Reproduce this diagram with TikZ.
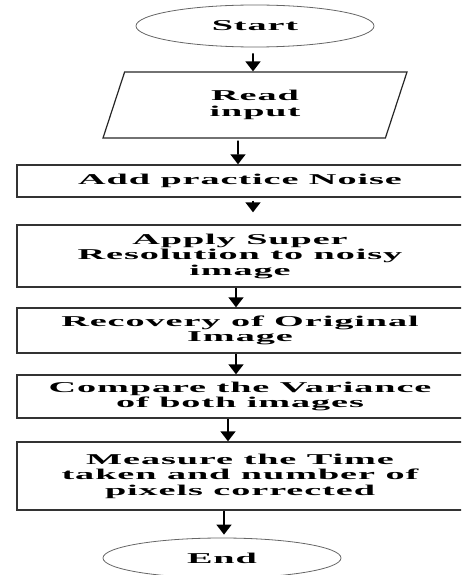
\documentclass[tikz,border=0pt]{standalone}
\usepackage{fontspec}
\newfontfamily\flowfont[FakeStretch=2.55,LetterSpace=6]{Liberation Serif}
\usetikzlibrary{shapes.geometric,arrows.meta}

\begin{document}
\begin{tikzpicture}[x=1pt,y=-1pt,
    every node/.style={font=\flowfont\bfseries\fontsize{15}{15.5}\selectfont,align=center,inner sep=0pt},
    terminal/.style={ellipse,draw=black!60,line width=0.8pt,minimum width=238pt},
    iobox/.style={trapezium,trapezium left angle=53.4,trapezium right angle=126.6,trapezium stretches body,
        draw=black!85,line width=1.2pt,minimum width=304pt,minimum height=66pt},
    procbox/.style={rectangle,draw=black!80,line width=1.4pt,minimum width=446pt},
    arr/.style={-{Triangle[width=15pt,length=10pt]},line width=1.6pt}]
    \useasboundingbox (0,0) rectangle (461,575);
    \clip (0,0) rectangle (461,575);

    \node[terminal,minimum height=42pt] (start) at (255,26) {Start};
    \node[iobox] (read) at (255,105) {Read\\input};
    \node[procbox,minimum height=32pt] (add) at (240,181) {Add practice Noise};
    \node[procbox,minimum height=62pt] (apply) at (240,256) {Apply Super\\Resolution to noisy\\image};
    \node[procbox,minimum height=45pt] (recover) at (240,330.5) {Recovery of Original\\Image};
    \node[procbox,minimum height=43pt] (compare) at (240,396.5) {Compare the Variance\\of both images};
    \node[procbox,minimum height=68pt] (measure) at (240,476) {Measure the Time\\taken and number of\\pixels corrected};
    \node[terminal,minimum height=40pt] (stop) at (222,558) {End};

    \draw[arr] ([xshift=-2pt,yshift=-6pt]start.south) -- ([xshift=-2pt]read.north);
    \draw[arr] ([xshift=-17pt,yshift=-2pt]read.south) -- ([xshift=-2pt]add.north);
    \draw[arr] ([xshift=13pt,yshift=-3pt]add.south) -- ([xshift=13pt,yshift=12pt]apply.north);
    \draw[arr] ([xshift=-4pt]apply.south) -- ([xshift=-4pt]recover.north);
    \draw[arr] ([xshift=-4pt]recover.south) -- ([xshift=-4pt]compare.north);
    \draw[arr] ([xshift=-12pt]compare.south) -- ([xshift=-12pt]measure.north);
    \draw[arr] ([xshift=-16pt]measure.south) -- ([xshift=2pt,yshift=3pt]stop.north);
\end{tikzpicture}
\end{document}
